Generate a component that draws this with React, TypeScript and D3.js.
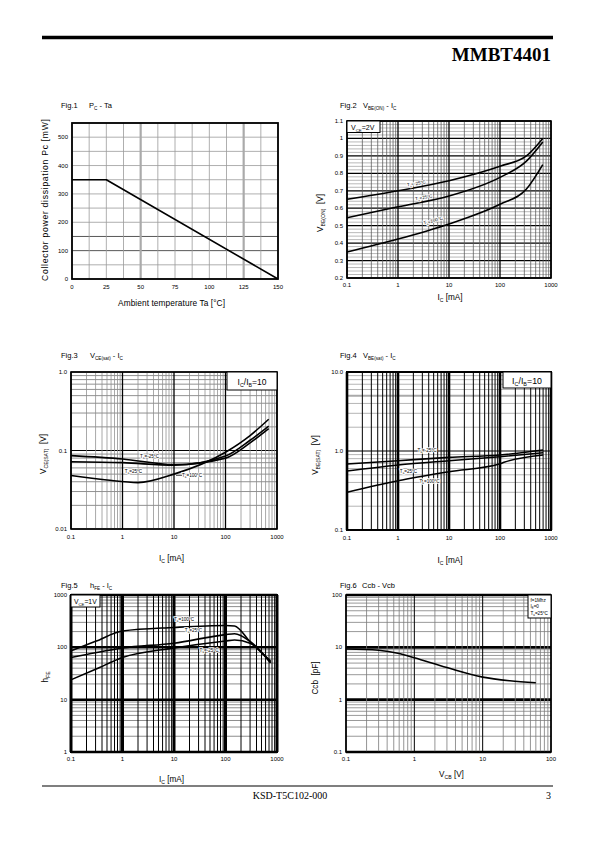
import React from "react";
import * as d3 from "d3";

const SANS = "'Liberation Sans', Arial, Helvetica, sans-serif";
const SERIF = "'Liberation Serif', 'Times New Roman', serif";

type Pt = [number, number];
const zip = (xs: number[], ys: number[]): Pt[] => xs.map((x, i) => [x, ys[i]] as Pt);

// ---------------- Fig.1  Pc - Ta ----------------
const fig1Ta = [0, 25, 150];
const fig1Pc = [350, 350, 0];
const fig1XTicks = [0, 25, 50, 75, 100, 125, 150];
const fig1YTicks = [0, 100, 200, 300, 400, 500];

// ---------------- Fig.2  VBE(ON) - IC ----------------
const fig2Ic = [0.1, 1, 10, 100, 330, 690];
const fig2Vm25 = [0.651, 0.7, 0.758, 0.841, 0.9, 1.0];
const fig2V25 = [0.545, 0.608, 0.67, 0.777, 0.87, 0.98];
const fig2V100 = [0.349, 0.423, 0.51, 0.623, 0.71, 0.85];
const fig2YTicks = [0.2, 0.3, 0.4, 0.5, 0.6, 0.7, 0.8, 0.9, 1.0, 1.1];
const fig2YLabels = ["0.2", "0.3", "0.4", "0.5", "0.6", "0.7", "0.8", "0.9", "1", "1.1"];

// ---------------- Fig.3  VCE(sat) - IC ----------------
const fig3Ic = [0.1, 1, 10, 100, 300, 690];
const fig3Vm25 = [0.086, 0.078, 0.066, 0.08, 0.125, 0.19];
const fig3V25 = [0.072, 0.07, 0.065, 0.085, 0.135, 0.205];
const fig3Ic100 = [0.1, 0.5, 2, 10, 100, 300, 690];
const fig3V100 = [0.048, 0.042, 0.039, 0.05, 0.095, 0.155, 0.25];
const fig3YTicks = [0.01, 0.1, 1];
const fig3YLabels = ["0.01", "0.1", "1.0"];

// ---------------- Fig.4  VBE(sat) - IC ----------------
const fig4Ic = [0.1, 1, 10, 100, 700];
const fig4Vm25 = [0.684, 0.754, 0.83, 0.89, 1.03];
const fig4V25 = [0.557, 0.665, 0.754, 0.847, 0.95];
const fig4Ic100 = [0.1, 1, 10, 100, 120, 700];
const fig4V100 = [0.3, 0.42, 0.547, 0.69, 0.72, 0.89];
const fig4YTicks = [0.1, 1, 10];
const fig4YLabels = ["0.1", "1.0", "10.0"];

// ---------------- Fig.5  hFE - IC ----------------
const fig5Ic = [0.1, 0.3, 1, 10, 100, 150, 300, 750];
const fig5H100 = [86, 130, 205, 240, 262, 255, 128, 55];
const fig5H25 = [64, 79, 97, 120, 175, 182, 130, 52];
const fig5Hm25 = [24, 38, 64, 97, 132, 138, 120, 50];
const fig5YTicks = [1, 10, 100, 1000];
const fig5YLabels = ["1", "10", "100", "1000"];

// ---------------- Fig.6  Ccb - Vcb ----------------
const fig6Vcb = [0.1, 0.3, 0.6, 1, 3, 10, 25, 60];
const fig6Ccb = [9.3, 8.8, 7.6, 6.3, 4.1, 2.7, 2.3, 2.1];
const fig6XTicks = [0.1, 1, 10, 100];
const fig6XLabels = ["0.1", "1", "10", "100"];
const fig6YTicks = [0.1, 1, 10, 100];
const fig6YLabels = ["0.1", "1", "10", "100"];

const logXTicks = [0.1, 1, 10, 100, 1000];
const logXLabels = ["0.1", "1", "10", "100", "1000"];

// ---------------- helpers ----------------
function logMinors(lo: number, hi: number): number[] {
  const out: number[] = [];
  for (let e = Math.floor(Math.log10(lo) + 1e-9); e < Math.round(Math.log10(hi)); e++) {
    for (let k = 2; k <= 9; k++) {
      const v = k * Math.pow(10, e);
      if (v > lo * 1.0001 && v < hi * 0.9999) out.push(v);
    }
  }
  return out;
}
function logMajors(lo: number, hi: number): number[] {
  const out: number[] = [];
  for (let e = Math.round(Math.log10(lo)); e <= Math.round(Math.log10(hi)); e++) {
    out.push(Math.pow(10, e));
  }
  return out;
}

type Style = { color: string; width: number };
type Grid = { values: number[]; style: Style };
type Box = { l: number; r: number; t: number; b: number };

interface PanelProps {
  box: Box;
  xs: (v: number) => number;
  ys: (v: number) => number;
  xGrid: Grid[];
  yGrid: Grid[];
  lines: Pt[][];
  curve: d3.CurveFactory;
  xTicks: number[];
  xLabels: string[];
  yTicks: number[];
  yLabels: string[];
  xLabelDy?: number;
  border?: number;
  children?: React.ReactNode;
}

function Panel(p: PanelProps) {
  const { box } = p;
  const gen = d3
    .line<Pt>()
    .x((d) => p.xs(d[0]))
    .y((d) => p.ys(d[1]))
    .curve(p.curve);
  return (
    <g>
      <rect x={box.l} y={box.t} width={box.r - box.l} height={box.b - box.t} fill="#fff" />
      {p.yGrid.map((g, gi) =>
        g.values.map((v, i) => (
          <line
            key={`y${gi}-${i}`}
            x1={box.l}
            x2={box.r}
            y1={p.ys(v)}
            y2={p.ys(v)}
            stroke={g.style.color}
            strokeWidth={g.style.width}
          />
        ))
      )}
      {p.xGrid.map((g, gi) =>
        g.values.map((v, i) => (
          <line
            key={`x${gi}-${i}`}
            x1={p.xs(v)}
            x2={p.xs(v)}
            y1={box.t}
            y2={box.b}
            stroke={g.style.color}
            strokeWidth={g.style.width}
          />
        ))
      )}
      {p.lines.map((l, i) => (
        <path key={`l${i}`} d={gen(l) || ""} fill="none" stroke="#000" strokeWidth={1.6} strokeLinejoin="round" />
      ))}
      <rect
        x={box.l}
        y={box.t}
        width={box.r - box.l}
        height={box.b - box.t}
        fill="none"
        stroke="#000"
        strokeWidth={p.border ?? 1.6}
      />
      {p.xTicks.map((v, i) => (
        <text
          key={`xt${i}`}
          x={p.xs(v)}
          y={box.b + (p.xLabelDy ?? 9.5)}
          fontSize={6}
          fontFamily={SANS}
          textAnchor="middle"
        >
          {p.xLabels[i]}
        </text>
      ))}
      {p.yTicks.map((v, i) => (
        <text
          key={`yt${i}`}
          x={box.l - 4}
          y={p.ys(v) + 2}
          fontSize={6}
          fontFamily={SANS}
          textAnchor="end"
        >
          {p.yLabels[i]}
        </text>
      ))}
      {p.children}
    </g>
  );
}

// Text with subscripts: parts alternate normal / subscript
function SubText({
  x,
  y,
  parts,
  size,
  anchor = "start",
  rotate = 0,
  halo = false,
  family = SANS,
}: {
  x: number;
  y: number;
  parts: [string, boolean][];
  size: number;
  anchor?: "start" | "middle" | "end";
  rotate?: number;
  halo?: boolean;
  family?: string;
}) {
  let prevSub = false;
  const sh = size * 0.3;
  return (
    <text
      transform={`translate(${x},${y}) rotate(${rotate})`}
      fontSize={size}
      fontFamily={family}
      textAnchor={anchor}
      stroke={halo ? "#fff" : undefined}
      strokeWidth={halo ? 1.6 : undefined}
      paintOrder="stroke"
      style={{ whiteSpace: "pre" }}
    >
      {parts.map(([t, sub], i) => {
        const dy = sub && !prevSub ? sh : !sub && prevSub ? -sh : 0;
        prevSub = sub;
        return (
          <tspan key={i} dy={dy} fontSize={sub ? size * 0.62 : size}>
            {t}
          </tspan>
        );
      })}
    </text>
  );
}

function CurveLabel({ x, y, t, rotate = 0 }: { x: number; y: number; t: string; rotate?: number }) {
  return (
    <SubText
      x={x}
      y={y}
      anchor="middle"
      size={4.6}
      rotate={rotate}
      halo
      parts={[
        ["T", false],
        ["a", true],
        [`=${t}°C`, false],
      ]}
    />
  );
}

function LegendBox({ b, children }: { b: Box; children: React.ReactNode }) {
  return (
    <g>
      <rect x={b.l} y={b.t} width={b.r - b.l} height={b.b - b.t} fill="#fff" stroke="#000" strokeWidth={1} />
      {children}
    </g>
  );
}

export default function App() {
  // ---- Fig1
  const b1: Box = { l: 72, r: 278, t: 123, b: 279 };
  const x1 = d3.scaleLinear().domain([0, 150]).range([b1.l, b1.r]);
  const y1 = d3.scaleLinear().domain([0, 550]).range([b1.b, b1.t]);
  const f1v = d3.range(0, 151, 12.5);
  const f1h = d3.range(0, 551, 50);

  // ---- Fig2
  const b2: Box = { l: 347, r: 551, t: 121, b: 278 };
  const x2 = d3.scaleLog().domain([0.1, 1000]).range([b2.l, b2.r]);
  const y2 = d3.scaleLinear().domain([0.2, 1.1]).range([b2.b, b2.t]);
  const f2hMinor = d3.range(10, 55).filter((i) => i % 5 !== 0).map((i) => i * 0.02);

  // ---- Fig3
  const b3: Box = { l: 71, r: 277, t: 372, b: 529 };
  const x3 = d3.scaleLog().domain([0.1, 1000]).range([b3.l, b3.r]);
  const y3 = d3.scaleLog().domain([0.01, 1]).range([b3.b, b3.t]);

  // ---- Fig4
  const b4: Box = { l: 347, r: 551, t: 372, b: 530 };
  const x4 = d3.scaleLog().domain([0.1, 1000]).range([b4.l, b4.r]);
  const y4 = d3.scaleLog().domain([0.1, 10]).range([b4.b, b4.t]);

  // ---- Fig5
  const b5: Box = { l: 71, r: 277, t: 595, b: 752 };
  const x5 = d3.scaleLog().domain([0.1, 1000]).range([b5.l, b5.r]);
  const y5 = d3.scaleLog().domain([1, 1000]).range([b5.b, b5.t]);

  // ---- Fig6
  const b6: Box = { l: 346, r: 551, t: 595, b: 752 };
  const x6 = d3.scaleLog().domain([0.1, 100]).range([b6.l, b6.r]);
  const y6 = d3.scaleLog().domain([0.1, 100]).range([b6.b, b6.t]);

  const xMin = logMinors(0.1, 1000);
  const xMaj = logMajors(0.1, 1000);

  const titleSize = 7.5;
  const axisSize = 8.2;

  return (
    <svg
      width={595}
      height={842}
      viewBox="0 0 595 842"
      style={{ position: "absolute", left: 0, top: 0, background: "#fff" }}
    >
      <rect x={0} y={0} width={595} height={842} fill="#fff" />
      {/* Header */}
      <line x1={42} x2={553} y1={37.5} y2={37.5} stroke="#000" strokeWidth={3.5} />
      <text x={551} y={61} fontFamily={SERIF} fontWeight="bold" fontSize={19} textAnchor="end">
        MMBT4401
      </text>

      {/* ---------------- Fig.1 ---------------- */}
      <text x={61} y={108} fontSize={titleSize} fontFamily={SANS}>
        Fig.1
      </text>
      <SubText
        x={89}
        y={108}
        size={titleSize}
        parts={[
          ["P", false],
          ["C", true],
          [" - Ta", false],
        ]}
      />
      <Panel
        box={b1}
        xs={x1}
        ys={y1}
        xGrid={[
          { values: f1v.filter((v) => v !== 50 && v !== 125), style: { color: "#9a9a9a", width: 0.8 } },
          { values: [50, 125], style: { color: "#aaa", width: 2.2 } },
        ]}
        yGrid={[
          { values: f1h.filter((v) => v !== 100 && v !== 150), style: { color: "#9a9a9a", width: 0.8 } },
          { values: [100, 150], style: { color: "#444", width: 0.9 } },
        ]}
        lines={[zip(fig1Ta, fig1Pc)]}
        curve={d3.curveLinear}
        xTicks={fig1XTicks}
        xLabels={fig1XTicks.map(String)}
        yTicks={fig1YTicks}
        yLabels={fig1YTicks.map(String)}
        border={1.8}
      />
      <text x={171.5} y={306} fontSize={8.3} fontFamily={SANS} textAnchor="middle" textLength={107} lengthAdjust="spacing">
        Ambient temperature Ta [°C]
      </text>
      <text
        transform="translate(48,200) rotate(-90)"
        fontSize={8.6}
        fontFamily={SANS}
        textAnchor="middle"
        textLength={162}
        lengthAdjust="spacing"
      >
        Collector power dissipation Pc [mW]
      </text>

      {/* ---------------- Fig.2 ---------------- */}
      <text x={340} y={108} fontSize={titleSize} fontFamily={SANS}>
        Fig.2
      </text>
      <SubText
        x={363}
        y={108}
        size={titleSize}
        parts={[
          ["V", false],
          ["BE(ON)", true],
          [" - I", false],
          ["C", true],
        ]}
      />
      <Panel
        box={b2}
        xs={x2}
        ys={y2}
        xGrid={[
          { values: xMin, style: { color: "#555", width: 0.75 } },
          { values: xMaj, style: { color: "#000", width: 1.3 } },
        ]}
        yGrid={[
          { values: f2hMinor, style: { color: "#8a8a8a", width: 0.6 } },
          { values: fig2YTicks, style: { color: "#000", width: 1.3 } },
        ]}
        lines={[zip(fig2Ic, fig2Vm25), zip(fig2Ic, fig2V25), zip(fig2Ic, fig2V100)]}
        curve={d3.curveMonotoneX}
        xTicks={logXTicks}
        xLabels={logXLabels}
        yTicks={fig2YTicks}
        yLabels={fig2YLabels}
        xLabelDy={8.5}
      >
        <LegendBox b={{ l: b2.l, r: 380, t: b2.t, b: 132.5 }}>
          <SubText
            x={351}
            y={130}
            size={7}
            parts={[
              ["V", false],
              ["CE", true],
              ["=2V", false],
            ]}
          />
        </LegendBox>
        <CurveLabel x={416.5} y={185} t="-25" rotate={-9} />
        <CurveLabel x={424} y={199} t="25" rotate={-10} />
        <CurveLabel x={433.5} y={222} t="100" rotate={-15} />
      </Panel>
      <SubText
        x={450}
        y={300}
        size={axisSize}
        anchor="middle"
        parts={[
          ["I", false],
          ["C", true],
          [" [mA]", false],
        ]}
      />
      <SubText
        x={323}
        y={213}
        size={axisSize}
        anchor="middle"
        rotate={-90}
        parts={[
          ["V", false],
          ["BE(ON)", true],
          ["  [V]", false],
        ]}
      />

      {/* ---------------- Fig.3 ---------------- */}
      <text x={61} y={358} fontSize={titleSize} fontFamily={SANS}>
        Fig.3
      </text>
      <SubText
        x={90}
        y={358}
        size={titleSize}
        parts={[
          ["V", false],
          ["CE(sat)", true],
          [" - I", false],
          ["C", true],
        ]}
      />
      <Panel
        box={b3}
        xs={x3}
        ys={y3}
        xGrid={[
          { values: xMin, style: { color: "#8c8c8c", width: 0.75 } },
          { values: xMaj, style: { color: "#000", width: 1.3 } },
        ]}
        yGrid={[
          { values: logMinors(0.01, 1), style: { color: "#555", width: 0.65 } },
          { values: logMajors(0.01, 1), style: { color: "#000", width: 1.2 } },
        ]}
        lines={[zip(fig3Ic, fig3Vm25), zip(fig3Ic, fig3V25), zip(fig3Ic100, fig3V100)]}
        curve={d3.curveMonotoneX}
        xTicks={logXTicks}
        xLabels={logXLabels}
        yTicks={fig3YTicks}
        yLabels={fig3YLabels}
      >
        <LegendBox b={{ l: 227, r: b3.r, t: b3.t, b: 390 }}>
          <SubText
            x={252}
            y={384.5}
            size={8.5}
            anchor="middle"
            parts={[
              ["I", false],
              ["C", true],
              ["/I", false],
              ["B", true],
              ["=10", false],
            ]}
          />
        </LegendBox>
        <CurveLabel x={149.5} y={458} t="-25" />
        <CurveLabel x={133.5} y={472.5} t="25" />
        <line x1={176} x2={182} y1={475.5} y2={475.5} stroke="#000" strokeWidth={0.6} />
        <CurveLabel x={192} y={477} t="100" />
      </Panel>
      <SubText
        x={171.5}
        y={561}
        size={axisSize}
        anchor="middle"
        parts={[
          ["I", false],
          ["C", true],
          [" [mA]", false],
        ]}
      />
      <SubText
        x={46}
        y={454}
        size={axisSize}
        anchor="middle"
        rotate={-90}
        parts={[
          ["V", false],
          ["CE(SAT)", true],
          ["  [V]", false],
        ]}
      />

      {/* ---------------- Fig.4 ---------------- */}
      <text x={340} y={358} fontSize={titleSize} fontFamily={SANS}>
        Fig.4
      </text>
      <SubText
        x={363}
        y={358}
        size={titleSize}
        parts={[
          ["V", false],
          ["BE(sat)", true],
          [" - I", false],
          ["C", true],
        ]}
      />
      <Panel
        box={b4}
        xs={x4}
        ys={y4}
        xGrid={[
          { values: xMin, style: { color: "#000", width: 1 } },
          { values: xMaj, style: { color: "#000", width: 2.6 } },
        ]}
        yGrid={[
          { values: logMinors(0.1, 10).filter((v) => Math.abs(v - 5) > 0.01), style: { color: "#b5b5b5", width: 1 } },
          { values: [5], style: { color: "#aaa", width: 2 } },
          { values: logMajors(0.1, 10), style: { color: "#000", width: 1.2 } },
        ]}
        lines={[zip(fig4Ic, fig4Vm25), zip(fig4Ic, fig4V25), zip(fig4Ic100, fig4V100)]}
        curve={d3.curveMonotoneX}
        xTicks={logXTicks}
        xLabels={logXLabels}
        yTicks={fig4YTicks}
        yLabels={fig4YLabels}
        border={2}
      >
        <LegendBox b={{ l: 503, r: b4.r, t: b4.t, b: 388 }}>
          <SubText
            x={527}
            y={383.5}
            size={8.8}
            anchor="middle"
            parts={[
              ["I", false],
              ["C", true],
              ["/I", false],
              ["B", true],
              ["=10", false],
            ]}
          />
        </LegendBox>
        <CurveLabel x={427} y={451.5} t="-25" />
        <CurveLabel x={408.5} y={472.5} t="25" />
        <CurveLabel x={429.5} y={482.5} t="100" />
      </Panel>
      <SubText
        x={450}
        y={563}
        size={axisSize}
        anchor="middle"
        parts={[
          ["I", false],
          ["C", true],
          [" [mA]", false],
        ]}
      />
      <SubText
        x={318}
        y={455}
        size={axisSize}
        anchor="middle"
        rotate={-90}
        parts={[
          ["V", false],
          ["BE(SAT)", true],
          ["  [V]", false],
        ]}
      />

      {/* ---------------- Fig.5 ---------------- */}
      <text x={61} y={588} fontSize={titleSize} fontFamily={SANS}>
        Fig.5
      </text>
      <SubText
        x={90}
        y={588}
        size={titleSize}
        parts={[
          ["h", false],
          ["FE", true],
          [" - I", false],
          ["C", true],
        ]}
      />
      <Panel
        box={b5}
        xs={x5}
        ys={y5}
        xGrid={[
          { values: xMin, style: { color: "#000", width: 1 } },
          { values: xMaj, style: { color: "#000", width: 3 } },
        ]}
        yGrid={[
          { values: logMinors(1, 1000), style: { color: "#808080", width: 0.9 } },
          { values: logMajors(1, 1000), style: { color: "#000", width: 2.5 } },
        ]}
        lines={[zip(fig5Ic, fig5H100), zip(fig5Ic, fig5H25), zip(fig5Ic, fig5Hm25)]}
        curve={d3.curveMonotoneX}
        xTicks={logXTicks}
        xLabels={logXLabels}
        yTicks={fig5YTicks}
        yLabels={fig5YLabels}
        xLabelDy={9}
        border={2}
      >
        <LegendBox b={{ l: b5.l, r: 100, t: b5.t, b: 607 }}>
          <SubText
            x={74}
            y={604}
            size={6.8}
            parts={[
              ["V", false],
              ["CE", true],
              ["=1V", false],
            ]}
          />
        </LegendBox>
        <CurveLabel x={184} y={620.5} t="100" />
        <CurveLabel x={193.5} y={631.5} t="25" />
        <CurveLabel x={209} y={652} t="-25" />
      </Panel>
      <SubText
        x={171.5}
        y={782}
        size={axisSize}
        anchor="middle"
        parts={[
          ["I", false],
          ["C", true],
          [" [mA]", false],
        ]}
      />
      <SubText
        x={48}
        y={677}
        size={axisSize}
        anchor="middle"
        rotate={-90}
        parts={[
          ["h", false],
          ["FE", true],
        ]}
      />

      {/* ---------------- Fig.6 ---------------- */}
      <text x={340} y={588} fontSize={titleSize} fontFamily={SANS}>
        Fig.6
      </text>
      <text x={362} y={588} fontSize={titleSize} fontFamily={SANS}>
        Ccb - Vcb
      </text>
      <Panel
        box={b6}
        xs={x6}
        ys={y6}
        xGrid={[
          { values: logMinors(0.1, 100), style: { color: "#7a7a7a", width: 0.8 } },
          { values: logMajors(0.1, 100), style: { color: "#000", width: 1 } },
        ]}
        yGrid={[
          { values: logMinors(0.1, 100), style: { color: "#777", width: 0.75 } },
          { values: logMajors(0.1, 100), style: { color: "#000", width: 2.6 } },
        ]}
        lines={[zip(fig6Vcb, fig6Ccb)]}
        curve={d3.curveMonotoneX}
        xTicks={fig6XTicks}
        xLabels={fig6XLabels}
        yTicks={fig6YTicks}
        yLabels={fig6YLabels}
        xLabelDy={9}
      >
        <LegendBox b={{ l: 528, r: b6.r, t: b6.t, b: 618 }}>
          <text x={530.5} y={601.5} fontSize={4.6} fontFamily={SANS}>
            f=1Mhz
          </text>
          <SubText
            x={530.5}
            y={608}
            size={4.6}
            parts={[
              ["I", false],
              ["E", true],
              ["=0", false],
            ]}
          />
          <SubText
            x={530.5}
            y={614.5}
            size={4.6}
            parts={[
              ["T", false],
              ["a", true],
              ["=25°C", false],
            ]}
          />
        </LegendBox>
      </Panel>
      <SubText
        x={451.5}
        y={777}
        size={axisSize}
        anchor="middle"
        parts={[
          ["V", false],
          ["CB", true],
          [" [V]", false],
        ]}
      />
      <text
        transform="translate(318,678) rotate(-90)"
        fontSize={axisSize}
        fontFamily={SANS}
        textAnchor="middle"
        style={{ whiteSpace: "pre" }}
      >
        Ccb  [pF]
      </text>

      {/* Footer */}
      <line x1={42} x2={553} y1={786} y2={786} stroke="#000" strokeWidth={1.2} />
      <text x={290} y={799} fontFamily={SERIF} fontSize={10} textAnchor="middle">
        KSD-T5C102-000
      </text>
      <text x={551} y={799} fontFamily={SERIF} fontSize={10} textAnchor="end">
        3
      </text>
    </svg>
  );
}
